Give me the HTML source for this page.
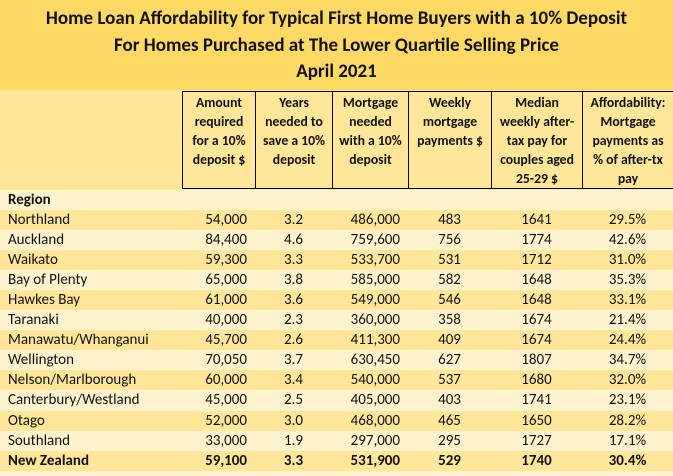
<!DOCTYPE html>
<html><head><meta charset="utf-8"><style>
body{margin:0;width:673px;height:476px;overflow:hidden;background:#FFF2CC;font-family:"Calibri","Carlito","Liberation Sans",sans-serif;color:#111;position:relative}
#title{position:absolute;left:0;top:0;width:673px;height:90px;background:#FFD966}
.tl{position:absolute;left:0;width:673px;text-align:center;font-weight:bold;font-size:19px;line-height:24px}
#hdr{position:absolute;left:0;top:90px;width:673px;height:100px;background:#FFE699}
.hc{position:absolute;top:91px;height:98px;border-left:1.5px solid #000;border-top:1.5px solid #000;border-bottom:1.5px solid #000;text-align:center;font-weight:bold;font-size:13.7px;line-height:19px;padding-top:1px;box-sizing:border-box}
.row{position:absolute;left:0;width:673px;height:20px;font-size:15px;line-height:20px}
.c{position:absolute;top:0}
</style></head><body>
<div id="title">
<div class="tl" style="top:7px">Home Loan Affordability for Typical First Home Buyers with a 10% Deposit</div>
<div class="tl" style="top:34px">For Homes Purchased at The Lower Quartile Selling Price</div>
<div class="tl" style="top:60px">April 2021</div>
</div>
<div id="hdr"></div>
<div class="hc" style="left:182px;width:73px">Amount<br>required<br>for a 10%<br>deposit $</div>
<div class="hc" style="left:255px;width:77px">Years<br>needed to<br>save a 10%<br>deposit</div>
<div class="hc" style="left:332px;width:76px">Mortgage<br>needed<br>with a 10%<br>deposit</div>
<div class="hc" style="left:408px;width:83px">Weekly<br>mortgage<br>payments $</div>
<div class="hc" style="left:491px;width:91px">Median<br>weekly after-<br>tax pay for<br>couples aged<br>25-29 $</div>
<div class="hc" style="left:582px;width:91px">Affordability:<br>Mortgage<br>payments as<br>% of after-tx<br>pay</div>
<div id="rows"></div>
<script>
const regions=["Northland","Auckland","Waikato","Bay of Plenty","Hawkes Bay","Taranaki","Manawatu/Whanganui","Wellington","Nelson/Marlborough","Canterbury/Westland","Otago","Southland","New Zealand"];
const amount=["54,000","84,400","59,300","65,000","61,000","40,000","45,700","70,050","60,000","45,000","52,000","33,000","59,100"];
const years=["3.2","4.6","3.3","3.8","3.6","2.3","2.6","3.7","3.4","2.5","3.0","1.9","3.3"];
const mortgage=["486,000","759,600","533,700","585,000","549,000","360,000","411,300","630,450","540,000","405,000","468,000","297,000","531,900"];
const weekly=["483","756","531","582","546","358","409","627","537","403","465","295","529"];
const median=["1641","1774","1712","1648","1648","1674","1674","1807","1680","1741","1650","1727","1740"];
const afford=["29.5%","42.6%","31.0%","35.3%","33.1%","21.4%","24.4%","34.7%","32.0%","23.1%","28.2%","17.1%","30.4%"];
const R=document.getElementById('rows');
function cell(row,txt,style,name){const d=document.createElement('div');d.className='c';d.style.cssText=style;d.textContent=txt;


row.appendChild(d);}
const rr=document.createElement('div');rr.className='row';rr.style.top='190px';rr.style.background='#FFF2CC';


cell(rr,'Region','left:8px;font-weight:bold','region-label');R.appendChild(rr);
for(let i=0;i<regions.length;i++){
 const r=document.createElement('div');r.className='row';
 r.style.top=(210+i*20.05)+'px';
 r.style.background=(i%2==0)?'#FFE699':'#FFF2CC';
 if(i==regions.length-1)r.style.fontWeight='bold';
 
 
 cell(r,regions[i],'left:8px','region-name');
 cell(r,amount[i],'right:426px','deposit-amount');
 cell(r,years[i],'left:255px;width:77px;text-align:center','years-to-save');
 cell(r,mortgage[i],'right:273px','mortgage-needed');
 cell(r,weekly[i],'left:408px;width:83px;text-align:center','weekly-payment');
 cell(r,median[i],'left:491px;width:91px;text-align:center','median-pay');
 cell(r,afford[i],'left:582px;width:91px;text-align:center','affordability-pct');
 R.appendChild(r);
}
</script>
</body></html>
